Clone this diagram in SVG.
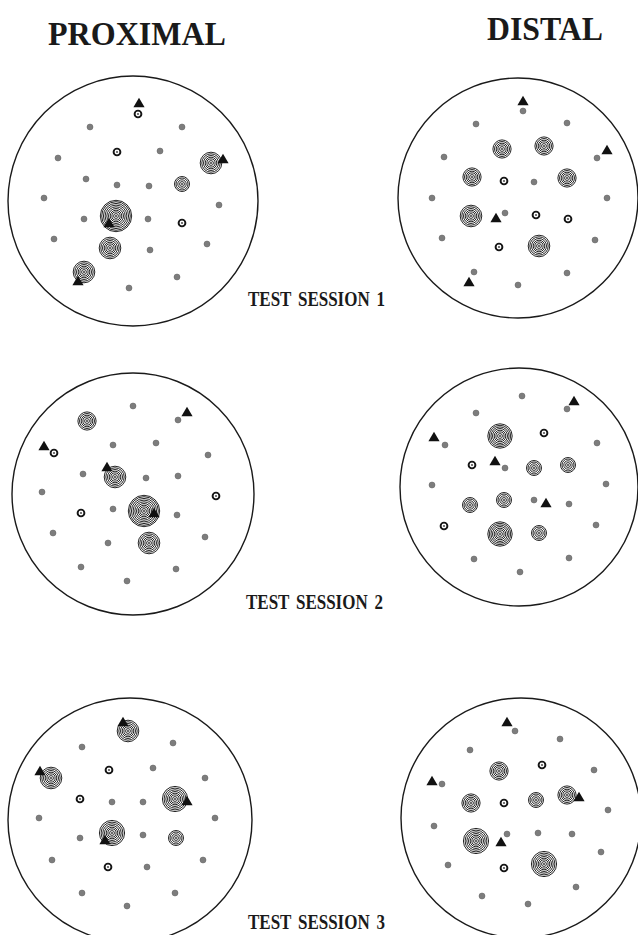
<svg xmlns="http://www.w3.org/2000/svg" xmlns:xlink="http://www.w3.org/1999/xlink" width="638" height="935" viewBox="0 0 638 935">
<style>
.arena{fill:none;stroke:#1a1a1a;stroke-width:1.4}
.rg{fill:none;stroke:#1a1a1a;stroke-width:0.95}
.title{font-family:"Liberation Serif",serif;font-weight:bold;fill:#1a1a1a}
</style>
<defs>
<g id="d"><circle r="3" fill="#7d7d7d" stroke="#5e5e5e" stroke-width="0.5"/></g>
<g id="s"><circle r="3.4" fill="none" stroke="#151515" stroke-width="1.9"/><circle r="1.1" fill="#555"/></g>
<g id="t"><polygon points="0,-5.2 5.6,4.3 -5.6,4.3" fill="#111"/></g>
<g id="R7" class="rg"><circle r="1.1" fill="#444" stroke="none"/><circle r="2.4"/><circle r="4.2"/><circle r="6"/><circle r="7.5"/></g>
<g id="R9" class="rg"><circle r="1.1" fill="#444" stroke="none"/><circle r="2.4"/><circle r="4.1"/><circle r="5.8"/><circle r="7.5"/><circle r="9.1"/></g>
<g id="R11" class="rg"><circle r="1.1" fill="#444" stroke="none"/><circle r="2.4"/><circle r="4.1"/><circle r="5.8"/><circle r="7.5"/><circle r="9.2"/><circle r="10.8"/></g>
<g id="R12" class="rg"><circle r="1.1" fill="#444" stroke="none"/><circle r="2.4"/><circle r="4.1"/><circle r="5.8"/><circle r="7.5"/><circle r="9.1"/><circle r="10.7"/><circle r="12.2"/></g>
<g id="R13" class="rg"><circle r="1.1" fill="#444" stroke="none"/><circle r="2.4"/><circle r="4.1"/><circle r="5.8"/><circle r="7.5"/><circle r="9.2"/><circle r="10.9"/><circle r="12.6"/></g>
<g id="R15" class="rg"><circle r="1.1" fill="#444" stroke="none"/><circle r="2.4"/><circle r="4.1"/><circle r="5.8"/><circle r="7.5"/><circle r="9.2"/><circle r="10.9"/><circle r="12.6"/><circle r="14.3"/><circle r="15.7"/></g>
</defs>
<rect width="638" height="935" fill="#fff"/>

<g id="headers">
<text class="title" x="48" y="45" font-size="34" textLength="178" lengthAdjust="spacingAndGlyphs">PROXIMAL</text>
<text class="title" x="487" y="40" font-size="33" textLength="116" lengthAdjust="spacingAndGlyphs">DISTAL</text>
</g>

<g id="proximal-session1">
<circle class="arena" cx="133" cy="201" r="125"/>
<use href="#s" x="138" y="114"/><use href="#t" x="139" y="103"/>
<use href="#d" x="90" y="127"/><use href="#d" x="182" y="127"/>
<use href="#d" x="58" y="158"/><use href="#s" x="117" y="152"/><use href="#d" x="160" y="151"/>
<use href="#R11" x="211" y="163"/><use href="#t" x="223" y="159"/>
<use href="#d" x="86" y="179"/><use href="#d" x="117" y="185"/><use href="#d" x="149" y="186"/><use href="#R7" x="182" y="184"/>
<use href="#d" x="44" y="198"/><use href="#d" x="219" y="205"/>
<use href="#R15" x="116" y="216"/><use href="#t" x="109" y="223"/>
<use href="#d" x="84" y="219"/><use href="#d" x="148" y="219"/><use href="#s" x="182" y="223"/>
<use href="#d" x="54" y="239"/><use href="#R11" x="110" y="248"/><use href="#d" x="150" y="250"/><use href="#d" x="207" y="244"/>
<use href="#R11" x="84" y="272"/><use href="#t" x="78" y="281"/>
<use href="#d" x="177" y="277"/><use href="#d" x="129" y="288"/>
</g>

<g id="distal-session1">
<circle class="arena" cx="518" cy="198" r="120"/>
<use href="#d" x="523" y="111"/><use href="#t" x="523" y="101"/>
<use href="#d" x="476" y="124"/><use href="#d" x="567" y="123"/>
<use href="#R9" x="502" y="149"/><use href="#R9" x="544" y="146"/>
<use href="#d" x="597" y="158"/><use href="#t" x="607" y="150"/>
<use href="#d" x="444" y="157"/>
<use href="#R9" x="472" y="177"/><use href="#s" x="504" y="181"/><use href="#d" x="534" y="182"/><use href="#R9" x="567" y="178"/>
<use href="#d" x="432" y="198"/><use href="#d" x="607" y="198"/>
<use href="#R11" x="471" y="216"/><use href="#d" x="505" y="213"/><use href="#t" x="496" y="218"/><use href="#s" x="536" y="215"/><use href="#s" x="568" y="219"/>
<use href="#d" x="442" y="238"/><use href="#s" x="499" y="247"/><use href="#R11" x="539" y="246"/><use href="#d" x="595" y="240"/>
<use href="#d" x="474" y="272"/><use href="#t" x="469" y="282"/>
<use href="#d" x="567" y="273"/><use href="#d" x="518" y="285"/>
</g>

<g id="proximal-session2">
<circle class="arena" cx="133" cy="494" r="121"/>
<use href="#d" x="133" y="406"/>
<use href="#R9" x="87" y="421"/>
<use href="#d" x="178" y="420"/><use href="#t" x="187" y="412"/>
<use href="#s" x="54" y="453"/><use href="#t" x="44" y="446"/>
<use href="#d" x="113" y="445"/><use href="#d" x="156" y="443"/><use href="#d" x="208" y="455"/>
<use href="#R11" x="115" y="477"/><use href="#t" x="107" y="467"/>
<use href="#d" x="83" y="474"/><use href="#d" x="146" y="478"/><use href="#d" x="178" y="476"/>
<use href="#d" x="42" y="492"/><use href="#s" x="216" y="496"/>
<use href="#s" x="81" y="513"/><use href="#d" x="113" y="509"/><use href="#R15" x="144" y="511"/><use href="#t" x="154" y="513"/><use href="#d" x="177" y="515"/>
<use href="#d" x="53" y="533"/><use href="#d" x="205" y="537"/>
<use href="#d" x="108" y="543"/><use href="#R11" x="149" y="543"/>
<use href="#d" x="81" y="567"/><use href="#d" x="176" y="569"/><use href="#d" x="127" y="581"/>
</g>

<g id="distal-session2">
<circle class="arena" cx="519" cy="487" r="119"/>
<use href="#d" x="522" y="396"/>
<use href="#d" x="567" y="409"/><use href="#t" x="574" y="401"/>
<use href="#d" x="476" y="413"/>
<use href="#R12" x="500" y="436"/><use href="#s" x="544" y="433"/>
<use href="#d" x="445" y="445"/><use href="#t" x="434" y="437"/>
<use href="#d" x="597" y="443"/>
<use href="#s" x="472" y="465"/>
<use href="#d" x="505" y="468"/><use href="#t" x="495" y="461"/>
<use href="#R7" x="534" y="468"/><use href="#R7" x="568" y="465"/>
<use href="#d" x="432" y="485"/><use href="#d" x="606" y="484"/>
<use href="#R7" x="470" y="505"/><use href="#R7" x="504" y="500"/>
<use href="#d" x="534" y="500"/><use href="#t" x="546" y="503"/>
<use href="#d" x="569" y="504"/>
<use href="#s" x="444" y="526"/>
<use href="#R12" x="500" y="534"/><use href="#R7" x="539" y="533"/>
<use href="#d" x="596" y="525"/>
<use href="#d" x="474" y="559"/><use href="#d" x="569" y="558"/><use href="#d" x="520" y="572"/>
</g>

<g id="proximal-session3">
<circle class="arena" cx="130" cy="820" r="122"/>
<use href="#R11" x="128" y="731"/><use href="#t" x="123" y="722"/>
<use href="#d" x="82" y="747"/><use href="#d" x="173" y="743"/>
<use href="#R11" x="51" y="778"/><use href="#t" x="40" y="771"/>
<use href="#s" x="109" y="770"/><use href="#d" x="153" y="768"/><use href="#d" x="205" y="778"/>
<use href="#s" x="80" y="799"/><use href="#d" x="112" y="802"/><use href="#d" x="143" y="802"/>
<use href="#R13" x="175" y="799"/><use href="#t" x="187" y="801"/>
<use href="#d" x="39" y="818"/><use href="#d" x="215" y="818"/>
<use href="#d" x="80" y="838"/><use href="#R13" x="112" y="833"/><use href="#t" x="105" y="840"/>
<use href="#d" x="143" y="835"/><use href="#R7" x="176" y="838"/>
<use href="#d" x="52" y="860"/><use href="#s" x="108" y="867"/><use href="#d" x="147" y="867"/><use href="#d" x="203" y="860"/>
<use href="#d" x="82" y="893"/><use href="#d" x="175" y="893"/><use href="#d" x="127" y="906"/>
</g>

<g id="distal-session3">
<circle class="arena" cx="521" cy="818" r="120"/>
<use href="#d" x="515" y="731"/><use href="#t" x="507" y="722"/>
<use href="#d" x="470" y="750"/><use href="#d" x="560" y="739"/>
<use href="#R9" x="499" y="771"/><use href="#s" x="542" y="765"/><use href="#d" x="594" y="770"/>
<use href="#d" x="442" y="784"/><use href="#t" x="432" y="781"/>
<use href="#R9" x="471" y="803"/><use href="#s" x="504" y="803"/><use href="#R7" x="536" y="800"/>
<use href="#R9" x="567" y="795"/><use href="#t" x="579" y="797"/>
<use href="#d" x="608" y="810"/>
<use href="#d" x="434" y="826"/>
<use href="#R13" x="476" y="841"/>
<use href="#d" x="507" y="834"/><use href="#t" x="501" y="842"/>
<use href="#d" x="538" y="833"/><use href="#d" x="572" y="834"/>
<use href="#d" x="601" y="852"/>
<use href="#d" x="448" y="865"/><use href="#s" x="504" y="868"/><use href="#R13" x="544" y="864"/>
<use href="#d" x="576" y="887"/><use href="#d" x="482" y="896"/><use href="#d" x="528" y="904"/>
</g>

<g id="session-labels">
<text class="title" x="248" y="306" font-size="20" word-spacing="3" textLength="137" lengthAdjust="spacingAndGlyphs">TEST SESSION 1</text>
<text class="title" x="246" y="609" font-size="20" word-spacing="3" textLength="137" lengthAdjust="spacingAndGlyphs">TEST SESSION 2</text>
<text class="title" x="248" y="929" font-size="20" word-spacing="3" textLength="137" lengthAdjust="spacingAndGlyphs">TEST SESSION 3</text>
</g>
</svg>
